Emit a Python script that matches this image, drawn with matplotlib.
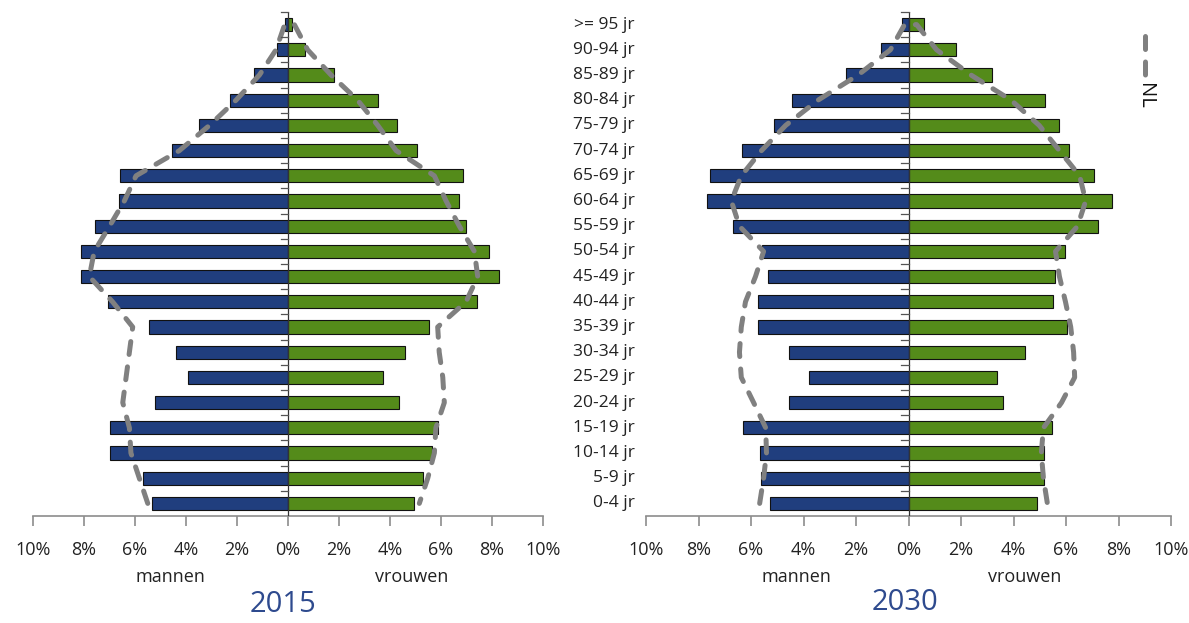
import matplotlib.pyplot as plt
from matplotlib.lines import Line2D
import numpy as np

plt.rcParams["font.family"] = ["Open Sans", "DejaVu Sans"]

# age groups, bottom to top
ages = ["0-4 jr", "5-9 jr", "10-14 jr", "15-19 jr", "20-24 jr", "25-29 jr",
        "30-34 jr", "35-39 jr", "40-44 jr", "45-49 jr", "50-54 jr", "55-59 jr",
        "60-64 jr", "65-69 jr", "70-74 jr", "75-79 jr", "80-84 jr", "85-89 jr",
        "90-94 jr", ">= 95 jr"]

# 2015 (percentages)
men_2015 = [5.32, 5.69, 7.00, 6.97, 5.22, 3.92, 4.41, 5.44, 7.06, 8.10,
            8.10, 7.55, 6.62, 6.59, 4.56, 3.50, 2.29, 1.33, 0.45, 0.10]
women_2015 = [4.94, 5.29, 5.66, 5.87, 4.35, 3.71, 4.59, 5.53, 7.41, 8.27,
              7.88, 6.99, 6.70, 6.87, 5.06, 4.27, 3.53, 1.79, 0.67, 0.14]
nl_men_2015 = [5.50, 5.83, 6.16, 6.22, 6.48, 6.35, 6.22, 6.09, 6.88, 7.79,
               7.60, 7.00, 6.42, 5.96, 4.26, 3.08, 2.04, 1.12, 0.47, 0.13]
nl_women_2015 = [5.15, 5.48, 5.74, 5.80, 6.13, 6.07, 5.93, 5.87, 6.98, 7.44,
                 7.31, 6.72, 6.20, 5.74, 4.24, 3.52, 2.73, 1.69, 0.77, 0.25]

# 2030 (percentages)
men_2030 = [5.28, 5.61, 5.67, 6.29, 4.57, 3.80, 4.57, 5.74, 5.75, 5.34,
            5.58, 6.67, 7.68, 7.55, 6.35, 5.11, 4.42, 2.39, 1.03, 0.26]
women_2030 = [4.89, 5.18, 5.15, 5.46, 3.59, 3.39, 4.43, 6.04, 5.52, 5.58,
              5.98, 7.21, 7.75, 7.07, 6.13, 5.74, 5.21, 3.19, 1.81, 0.58]
nl_men_2030 = [5.67, 5.52, 5.41, 5.44, 5.90, 6.37, 6.44, 6.37, 6.21, 5.83,
               5.52, 6.44, 6.75, 6.37, 5.60, 4.68, 3.45, 1.92, 0.69, 0.15]
nl_women_2030 = [5.29, 5.14, 5.06, 5.14, 5.83, 6.33, 6.29, 6.18, 5.98, 5.75,
                 5.60, 6.44, 6.75, 6.52, 5.75, 4.98, 3.91, 2.38, 1.07, 0.31]

ticks = [-10, -8, -6, -4, -2, 0, 2, 4, 6, 8, 10]

blue = "#203E7E"
green = "#548B1A"
grey = "#808080"
title_blue = "#2E4A8E"

W, H = 1189, 623
fig = plt.figure(figsize=(W / 100, H / 100), dpi=100)


def pyramid(rect, men, women, nl_men, nl_women):
    ax = fig.add_axes([rect[0] / W, 1 - rect[3] / H,
                       (rect[2] - rect[0]) / W, (rect[3] - rect[1]) / H])
    y = np.arange(len(ages))
    ax.barh(y, -np.array(men), height=0.52, color=blue, edgecolor="#111111", linewidth=0.8, zorder=2)
    ax.barh(y, women, height=0.52, color=green, edgecolor="#111111", linewidth=0.8, zorder=2)

    # NL outline: up the men's side, down the women's side
    xs = list(-np.array(nl_men)) + list(nl_women[::-1])
    ys = list(y) + list(y[::-1])
    ax.plot(xs, ys, color=grey, lw=3.6, dashes=(2.6, 2.5), dash_capstyle="round",
            solid_joinstyle="round", zorder=3)

    ax.set_xlim(-10, 10)
    ax.set_ylim(-0.5, len(ages) - 0.5)
    for s in ["top", "right", "left"]:
        ax.spines[s].set_visible(False)
    ax.spines["bottom"].set_color("#8c8c8c")
    ax.spines["bottom"].set_linewidth(1.2)
    ax.set_xticks(ticks)
    ax.set_xticklabels([f"{abs(t)}%" for t in ticks], fontsize=13, color="#222222")
    ax.tick_params(axis="x", direction="out", length=7, width=1.2, color="#8c8c8c", pad=11)

    # centre axis with small marks between age groups
    ax.axvline(0, color="#333333", lw=0.9, zorder=4)
    ax.set_yticks([])
    for b in np.arange(-0.5, len(ages), 1.0)[1:]:
        ax.plot([-0.28, 0], [b, b], color="#555555", lw=0.9, zorder=4, clip_on=False)
    return ax


ax1 = pyramid((33, 12, 543, 516), men_2015, women_2015, nl_men_2015, nl_women_2015)
ax2 = pyramid((646, 12, 1171, 516), men_2030, women_2030, nl_men_2030, nl_women_2030)

for i, lab in enumerate(ages):
    ax2.text(-0.022, i, lab, transform=ax2.get_yaxis_transform(), ha="right", va="center",
             fontsize=12.5, color="#222222")

labels = [("mannen", 170), ("vrouwen", 412), ("mannen", 796), ("vrouwen", 1025)]
for txt, xc in labels:
    fig.text(xc / W, 1 - 577 / H, txt, ha="center", va="center", fontsize=13, color="#222222")

fig.text(283 / W, 1 - 605 / H, "2015", ha="center", va="center", fontsize=21, color=title_blue)
fig.text(905 / W, 1 - 603 / H, "2030", ha="center", va="center", fontsize=21, color=title_blue)

# legend, drawn vertically like the original
fig.add_artist(Line2D([1145 / W, 1145 / W], [1 - 36 / H, 1 - 76 / H], color=grey, lw=3.6,
                      dashes=(2.6, 2.5), dash_capstyle="round", transform=fig.transFigure))
fig.text(1145 / W, 1 - 96 / H, "NL", rotation=270, ha="center", va="center", fontsize=14.5,
         color="#111111")

fig.savefig("out.png", dpi=100)
